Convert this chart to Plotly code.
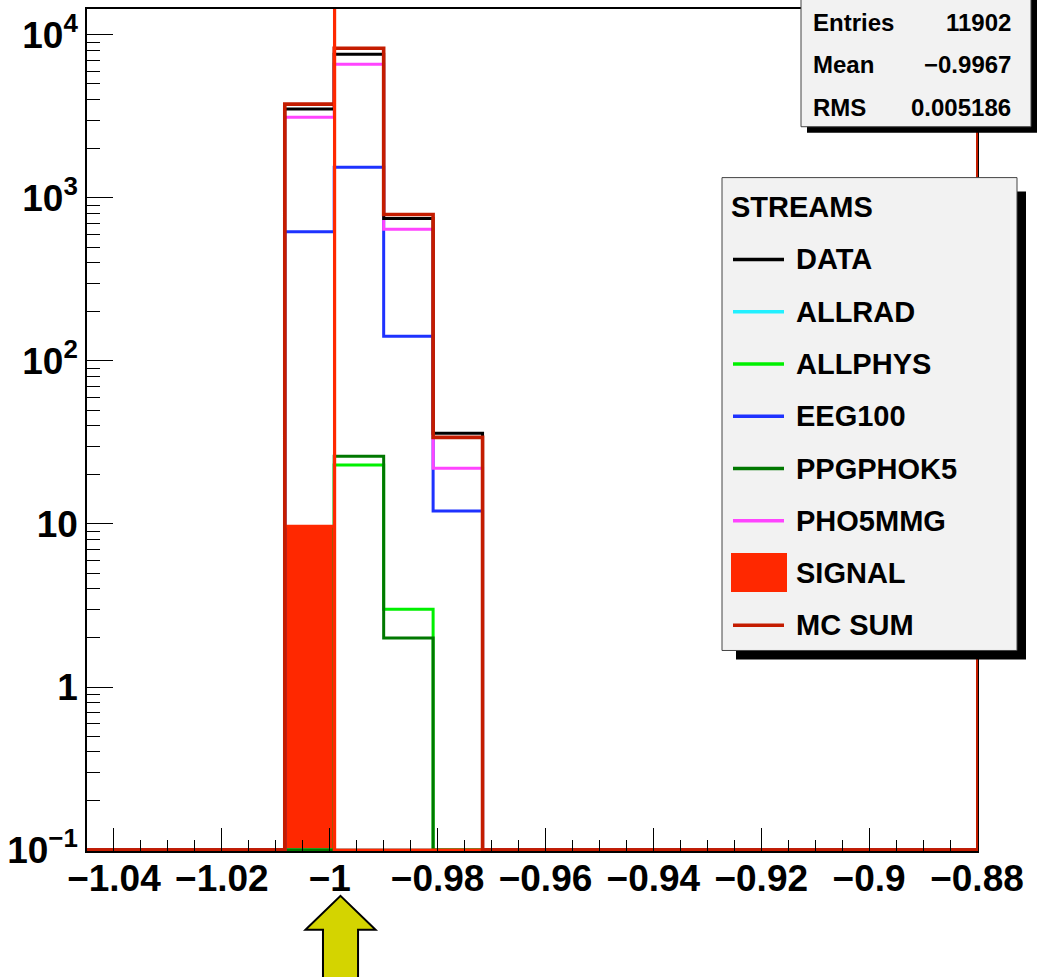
import numpy as np
import plotly.graph_objects as go

# ---------------- data ----------------
X_MIN, X_MAX, N_BINS = -1.045, -0.88, 18
Y_FLOOR = 0.1
Y_BOTTOM_LOG = -1.006
Y_TOP_LOG = 4.159

data_counts = [0, 0, 0, 0, 3508, 7610, 748, 36, 0, 0, 0, 0, 0, 0, 0, 0, 0, 0]
allrad      = [0, 0, 0, 0, 0, 0, 0, 0, 0, 0, 0, 0, 0, 0, 0, 0, 0, 0]
allphys     = [0, 0, 0, 0, 0, 23, 3, 0, 0, 0, 0, 0, 0, 0, 0, 0, 0, 0]
eeg100      = [0, 0, 0, 0, 620, 1540, 142, 12, 0, 0, 0, 0, 0, 0, 0, 0, 0, 0]
ppgphok5    = [0, 0, 0, 0, 0, 26, 2, 0, 0, 0, 0, 0, 0, 0, 0, 0, 0, 0]
pho5mmg     = [0, 0, 0, 0, 3130, 6610, 643, 22, 0, 0, 0, 0, 0, 0, 0, 0, 0, 0]
signal      = [0, 0, 0, 0, 9.7, 0, 0, 0, 0, 0, 0, 0, 0, 0, 0, 0, 0, 0]
mc_sum      = [0, 0, 0, 0, 3760, 8280, 791, 34, 0, 0, 0, 0, 0, 0, 0, 0, 0, 0]

x_tick_vals = [-1.04, -1.02, -1.0, -0.98, -0.96, -0.94, -0.92, -0.9, -0.88]
x_tick_text = ["−1.04", "−1.02", "−1", "−0.98", "−0.96", "−0.94", "−0.92", "−0.9", "−0.88"]
y_tick_vals = [0.1, 1, 10, 100, 1000, 10000]
y_tick_text = ["10<sup>−1</sup>", "1", "10", "10<sup>2</sup>", "10<sup>3</sup>", "10<sup>4</sup>"]

stats_labels = ["Entries", "Mean", "RMS"]
stats_values = ["11902", "−0.9967", "0.005186"]

legend_title = "STREAMS"
legend_names = ["DATA", "ALLRAD", "ALLPHYS", "EEG100", "PPGPHOK5", "PHO5MMG", "SIGNAL", "MC SUM"]
colors = {
    "DATA": "#000000",
    "ALLRAD": "#22f0ff",
    "ALLPHYS": "#00f000",
    "EEG100": "#1e32ff",
    "PPGPHOK5": "#007800",
    "PHO5MMG": "#ff44ff",
    "SIGNAL": "#ff2800",
    "MC SUM": "#c41c00",
}
CUT_X = -0.9991
ARROW_X = -0.998

# ---------------- helpers ----------------
edges = np.linspace(X_MIN, X_MAX, N_BINS + 1)
centers = 0.5 * (edges[:-1] + edges[1:])
bw = edges[1] - edges[0]

L, R, T, B = 87, 62, 7, 126
W, H = 1039, 977
PW, PH = W - L - R, H - T - B


def px(xp):
    return (xp - L) / PW


def py(yp):
    return (H - B - yp) / PH


def step(vals):
    v = np.array(vals, dtype=float)
    v = np.where(v > 0, v, Y_FLOOR)
    xs, ys = [edges[0]], [Y_FLOOR]
    for i in range(N_BINS):
        xs += [edges[i], edges[i + 1]]
        ys += [v[i], v[i]]
    xs.append(edges[-1])
    ys.append(Y_FLOOR)
    return xs, ys


fig = go.Figure()

# signal fill
fig.add_trace(go.Bar(x=centers, y=signal, width=bw, marker=dict(color=colors["SIGNAL"], line=dict(width=0)),
                     showlegend=False, hoverinfo="skip"))

series = [("ALLRAD", allrad, 3), ("ALLPHYS", allphys, 3), ("PPGPHOK5", ppgphok5, 3),
          ("EEG100", eeg100, 3), ("PHO5MMG", pho5mmg, 3), ("DATA", data_counts, 3),
          ("SIGNAL", signal, 3), ("MC SUM", mc_sum, 3.6)]
for name, vals, w in series:
    xs, ys = step(vals)
    fig.add_trace(go.Scatter(x=xs, y=ys, mode="lines", line=dict(color=colors[name], width=w),
                             name=name, showlegend=False, hoverinfo="skip"))

shapes = []
# right frame edge red line
shapes.append(dict(type="line", xref="paper", yref="paper", x0=1, x1=1, y0=0, y1=1,
                   line=dict(color=colors["MC SUM"], width=2), layer="above"))
# cut line
shapes.append(dict(type="line", xref="x", yref="paper", x0=CUT_X, x1=CUT_X, y0=0, y1=1,
                   line=dict(color=colors["SIGNAL"], width=3.2), layer="above"))

# arrow below axis
hw, sw = 0.0065, 0.00325
ty, hy, by = py(896), py(930), py(990)
path = (f"M {ARROW_X},{ty} L {ARROW_X + hw},{hy} L {ARROW_X + sw},{hy} L {ARROW_X + sw},{by} "
        f"L {ARROW_X - sw},{by} L {ARROW_X - sw},{hy} L {ARROW_X - hw},{hy} Z")
shapes.append(dict(type="path", xref="x", yref="paper", path=path, fillcolor="#d4d400",
                   line=dict(color="black", width=2), layer="above"))

# stats box
shapes.append(dict(type="rect", xref="paper", yref="paper", x0=px(807), x1=px(1037), y0=py(131), y1=py(-10),
                   fillcolor="black", line=dict(width=0), layer="above"))
shapes.append(dict(type="rect", xref="paper", yref="paper", x0=px(801), x1=px(1031), y0=py(125), y1=py(-10),
                   fillcolor="#f2f2f2", line=dict(color="#444444", width=1), layer="above"))
# legend box
shapes.append(dict(type="rect", xref="paper", yref="paper", x0=px(736), x1=px(1026), y0=py(659), y1=py(190),
                   fillcolor="black", line=dict(width=0), layer="above"))
shapes.append(dict(type="rect", xref="paper", yref="paper", x0=px(722), x1=px(1017), y0=py(650), y1=py(176),
                   fillcolor="#f2f2f2", line=dict(color="#444444", width=1), layer="above"))

annotations = []
FONT = "Liberation Sans"
row_y = [21, 63, 106]
for lab, val, yy in zip(stats_labels, stats_values, row_y):
    annotations.append(dict(xref="paper", yref="paper", x=px(811), y=py(yy), text=lab, showarrow=False,
                            xanchor="left", yanchor="middle",
                            font=dict(family=FONT, size=24, color="black", weight="bold")))
    annotations.append(dict(xref="paper", yref="paper", x=px(1013), y=py(yy), text=val, showarrow=False,
                            xanchor="right", yanchor="middle",
                            font=dict(family=FONT, size=24, color="black", weight="bold")))

annotations.append(dict(xref="paper", yref="paper", x=px(729), y=py(205), text=legend_title, showarrow=False,
                        xanchor="left", yanchor="middle",
                        font=dict(family=FONT, size=29, color="black", weight="bold")))
leg_y0, leg_dy = 258, 52.4
for i, name in enumerate(legend_names):
    yy = leg_y0 + i * leg_dy
    if name == "SIGNAL":
        shapes.append(dict(type="rect", xref="paper", yref="paper", x0=px(731), x1=px(787),
                           y0=py(yy + 19), y1=py(yy - 20), fillcolor=colors[name],
                           line=dict(width=0), layer="above"))
    else:
        shapes.append(dict(type="line", xref="paper", yref="paper", x0=px(733), x1=px(784),
                           y0=py(yy), y1=py(yy), line=dict(color=colors[name], width=3.5), layer="above"))
    annotations.append(dict(xref="paper", yref="paper", x=px(794), y=py(yy), text=name, showarrow=False,
                            xanchor="left", yanchor="middle",
                            font=dict(family=FONT, size=29, color="black", weight="bold")))

y_minor = [m * 10 ** k for k in range(-1, 5) for m in range(2, 10) if np.log10(m * 10 ** k) < Y_TOP_LOG]

fig.update_layout(
    width=W, height=H,
    margin=dict(l=L, r=R, t=T, b=B, pad=0),
    paper_bgcolor="white", plot_bgcolor="white",
    showlegend=False, bargap=0,
    shapes=shapes, annotations=annotations,
    xaxis=dict(range=[X_MIN, X_MAX], tickmode="array", tickvals=x_tick_vals, ticktext=x_tick_text,
               ticks="inside", ticklen=23, tickwidth=1, tickcolor="black", ticklabelstandoff=-6,
               minor=dict(dtick=0.005, tick0=-1.04, ticks="inside", ticklen=11, tickwidth=1, tickcolor="black"),
               showgrid=False, zeroline=False, showline=True, linecolor="black", linewidth=1.5, mirror=True,
               tickfont=dict(family=FONT, size=37, color="black", weight="bold")),
    yaxis=dict(type="log", range=[Y_BOTTOM_LOG, Y_TOP_LOG], tickmode="array", tickvals=y_tick_vals,
               ticktext=y_tick_text,
               ticks="inside", ticklen=26, tickwidth=1, tickcolor="black",
               minor=dict(tickmode="array", tickvals=y_minor, ticks="inside", ticklen=13, tickwidth=1,
                          tickcolor="black"),
               showgrid=False, zeroline=False, showline=True, linecolor="black", linewidth=1.5, mirror=True,
               tickfont=dict(family=FONT, size=37, color="black", weight="bold")),
)

fig.write_html("out.html")
